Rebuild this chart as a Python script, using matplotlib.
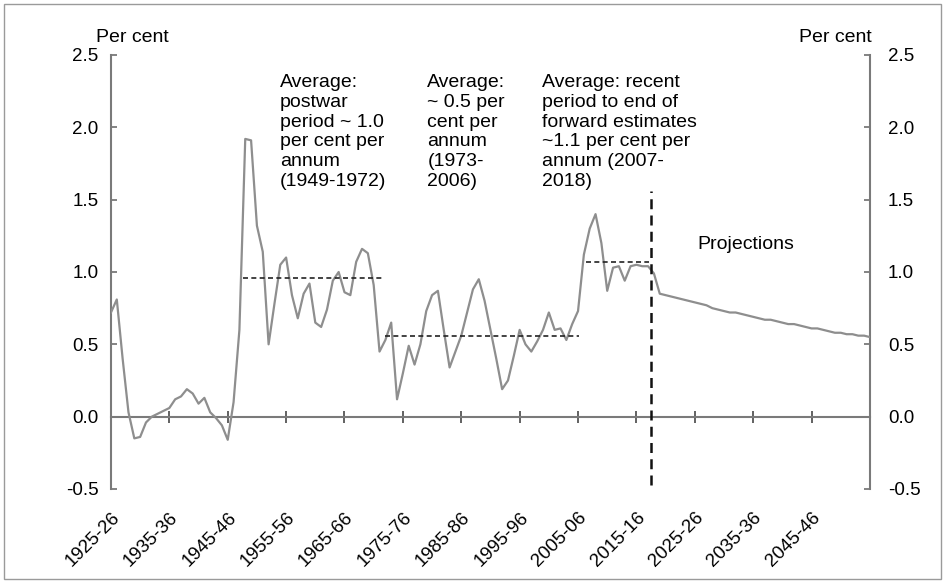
import numpy as np
import matplotlib
matplotlib.use("Agg")
import matplotlib.pyplot as plt
from matplotlib.patches import Rectangle

plt.rcParams['font.family'] = ['Liberation Sans', 'DejaVu Sans']

# annual growth, per cent (historical + projections), fiscal years starting 1925
years = np.arange(1925, 2056)
history = [
    0.72, 0.81, 0.40, 0.03, -0.15, -0.14, -0.04, 0.00, 0.02, 0.04,   # 1925-1934
    0.06, 0.12, 0.14, 0.19, 0.16, 0.09, 0.13, 0.03, -0.01, -0.06,    # 1935-1944
    -0.16, 0.10, 0.60, 1.92, 1.91, 1.32, 1.14, 0.50, 0.78, 1.05,     # 1945-1954
    1.10, 0.84, 0.68, 0.85, 0.92, 0.65, 0.62, 0.74, 0.94, 1.00,      # 1955-1964
    0.86, 0.84, 1.07, 1.16, 1.13, 0.91, 0.45, 0.53, 0.65, 0.12,      # 1965-1974
    0.30, 0.49, 0.36, 0.50, 0.73, 0.84, 0.87, 0.60, 0.34, 0.45,      # 1975-1984
    0.56, 0.72, 0.88, 0.95, 0.80, 0.60, 0.40, 0.19, 0.25, 0.42,      # 1985-1994
    0.60, 0.50, 0.45, 0.52, 0.60, 0.72, 0.60, 0.61, 0.53, 0.64,      # 1995-2004
    0.73, 1.12, 1.30, 1.40, 1.20, 0.87, 1.03, 1.04, 0.94, 1.04,      # 2005-2014
    1.05, 1.04, 1.04, 0.99, 0.85,                                    # 2015-2019
]
projection = [
    0.84, 0.83, 0.82, 0.81, 0.80, 0.79, 0.78, 0.77, 0.75, 0.74,      # 2020-2029
    0.73, 0.72, 0.72, 0.71, 0.70, 0.69, 0.68, 0.67, 0.67, 0.66,      # 2030-2039
    0.65, 0.64, 0.64, 0.63, 0.62, 0.61, 0.61, 0.60, 0.59, 0.58,      # 2040-2049
    0.58, 0.57, 0.57, 0.56, 0.56, 0.55,                              # 2050-2055
]
growth = history + projection

# period averages: start, end, value
avg_start = [1947.6, 1971.9, 2006.4]
avg_end = [1971.4, 2005.2, 2017.2]
avg_value = [0.96, 0.56, 1.07]

proj_start = 2017.5

tick_years = list(range(1925, 2046, 10))
tick_labels = ['%d-%02d' % (y, (y + 1) % 100) for y in tick_years]
y_ticks = [-0.5, 0.0, 0.5, 1.0, 1.5, 2.0, 2.5]

notes = [
    (1953.9, 2.37, 'Average:\npostwar\nperiod ~ 1.0\nper cent per\nannum\n(1949-1972)'),
    (1979.2, 2.37, 'Average:\n~ 0.5 per\ncent per\nannum\n(1973-\n2006)'),
    (1998.9, 2.37, 'Average: recent\nperiod to end of\nforward estimates\n~1.1 per cent per\nannum (2007-\n2018)'),
]

fig = plt.figure(figsize=(9.46, 5.82), dpi=100)
ax = fig.add_axes([0.1173, 0.1598, 0.8023, 0.7457])

ax.plot(years, growth, color='#8e8e8e', lw=1.6, zorder=3)
ax.hlines(avg_value, avg_start, avg_end, colors='#222222', linestyles=(0, (3, 2)), lw=1.2, zorder=4)
ax.vlines(proj_start, -0.47, 1.56, colors='#111111', linestyles=(0, (4, 2.5)), lw=1.8, zorder=4)

ax.set_xlim(1925, 2055)
ax.set_ylim(-0.5, 2.5)

ax.spines['top'].set_visible(False)
ax.spines['bottom'].set_position(('data', 0))
for side in ['left', 'right', 'bottom']:
    ax.spines[side].set_color('#7a7a7a')
    ax.spines[side].set_linewidth(1.5)

ax.set_xticks(tick_years)
ax.set_xticklabels(tick_labels, rotation=45, ha='right', rotation_mode='anchor')
ax.tick_params(axis='x', direction='inout', length=9, width=1.3, color='#555555',
               pad=62, labelsize=13.5)

ax.set_yticks(y_ticks)
ax.set_yticklabels(['%.1f' % v for v in y_ticks])
ax.tick_params(axis='y', direction='in', length=4, width=1.3, color='#7a7a7a',
               pad=9, labelsize=13.5)

ax2 = ax.twinx()
ax2.set_ylim(-0.5, 2.5)
ax2.set_yticks(y_ticks)
ax2.set_yticklabels(['%.1f' % v for v in y_ticks])
ax2.tick_params(axis='y', direction='in', length=4, width=1.3, color='#7a7a7a',
                pad=13, labelsize=13.5)
for side in ['top', 'bottom', 'left', 'right']:
    ax2.spines[side].set_visible(False)

for x, y, s in notes:
    ax.text(x, y, s, fontsize=14, va='top', ha='left', linespacing=1.22, zorder=5)
ax.text(2025.4, 1.16, 'Projections', fontsize=14, va='baseline', ha='left')

fig.text(0.102, 0.928, 'Per cent', fontsize=14, ha='left', va='baseline')
fig.text(0.922, 0.928, 'Per cent', fontsize=14, ha='right', va='baseline')

fig.add_artist(Rectangle((0.004, 0.006), 0.991, 0.987, transform=fig.transFigure,
                         fill=False, edgecolor='#9a9a9a', lw=1.0))

fig.savefig('out.png', dpi=100)
